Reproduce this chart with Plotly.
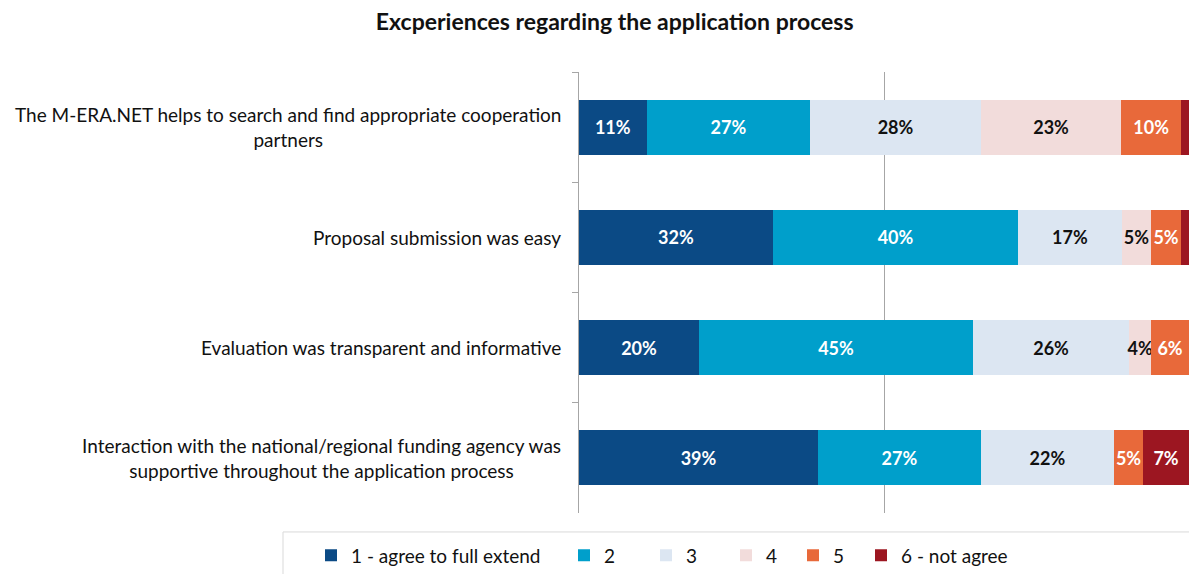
import plotly.graph_objects as go

categories = [
    "The M-ERA.NET helps to search and find appropriate cooperation<br>partners",
    "Proposal submission was easy",
    "Evaluation was transparent and informative",
    "Interaction with the national/regional funding agency was<br>supportive throughout the application process",
]
series_names = ["1 - agree to full extend", "2", "3", "4", "5", "6 - not agree"]
values = [
    [11.1, 31.8, 19.7, 39.2],
    [26.8, 40.2, 44.9, 26.7],
    [28.0, 17.0, 25.6, 21.8],
    [23.0, 4.8, 3.6, 0.0],
    [9.8, 4.9, 6.2, 4.8],
    [1.3, 1.3, 0.0, 7.5],
]
labels = [
    ["11%", "32%", "20%", "39%"],
    ["27%", "40%", "45%", "27%"],
    ["28%", "17%", "26%", "22%"],
    ["23%", "5%", "4%", ""],
    ["10%", "5%", "6%", "5%"],
    ["", "", "", "7%"],
]
colors = ["#0B4A85", "#009FCB", "#DCE6F2", "#F2DCDB", "#E8693A", "#9C1621"]
text_colors = ["white", "white", "#111", "#111", "white", "white"]

FONT = "Lato, 'Open Sans', sans-serif"
W, H = 1189, 574
ML, MR, MT, MB = 579, 0, 72, 61
plot_w = W - ML - MR

# where each legend swatch sits (px from the left edge), as in the original
legend_px = [325, 578, 660, 740, 807, 875]

fig = go.Figure()
for i, (name, vals, txt, col, tcol) in enumerate(zip(series_names, values, labels, colors, text_colors)):
    fig.add_trace(go.Bar(
        y=categories, x=vals, name=name, orientation="h",
        marker=dict(color=col, line=dict(width=0)),
        text=txt, textposition="inside", insidetextanchor="middle",
        textangle=0, constraintext="none",
        textfont=dict(color=tcol, size=18, family=FONT, weight="bold"),
        hoverinfo="x+name",
        legend="legend" if i == 0 else f"legend{i + 1}",
    ))

legend_common = dict(orientation="h", xanchor="left", y=-0.053, yanchor="top",
                     borderwidth=0, bgcolor="rgba(0,0,0,0)",
                     font=dict(size=19, color="#111"), itemwidth=30)
legends = {}
for i, px in enumerate(legend_px):
    key = "legend" if i == 0 else f"legend{i + 1}"
    legends[key] = dict(legend_common, x=(px - 14 - ML) / plot_w)

fig.update_layout(
    barmode="stack",
    bargap=0.5,
    width=W, height=H,
    margin=dict(l=ML, r=MR, t=MT, b=MB, autoexpand=False),
    plot_bgcolor="white", paper_bgcolor="white",
    font=dict(family=FONT, size=19, color="#111"),
    title=dict(text="<b>Excperiences regarding the application process</b>",
               x=0.517, xanchor="center", y=0.962, yanchor="middle",
               font=dict(size=23, color="#111")),
    uniformtext=dict(mode="show", minsize=17),
    showlegend=True,
    **legends,
)
fig.update_xaxes(range=[0, 100], dtick=50, showgrid=True, gridcolor="#A6A6A6",
                 gridwidth=1, showticklabels=False, zeroline=False, showline=False)
fig.update_yaxes(autorange="reversed", showticklabels=False, showline=True,
                 linecolor="#A6A6A6", ticks="outside", tickson="boundaries",
                 ticklen=6, tickcolor="#A6A6A6")

# legend frame
fig.add_shape(type="rect", xref="paper", yref="paper", x0=(283 - ML) / plot_w, x1=1.2,
              y0=-0.043, y1=-0.2, line=dict(color="#D9D9D9", width=1), layer="below")

for cat in categories:
    fig.add_annotation(x=0, xref="paper", xshift=-16, xanchor="right",
                       y=cat, yref="y", text=cat, showarrow=False,
                       align="center", font=dict(size=19, color="#111", family=FONT))

fig.write_html("out.html", config={"displayModeBar": False},
               post_script="document.body.style.margin='0';document.body.style.overflow='hidden';")
